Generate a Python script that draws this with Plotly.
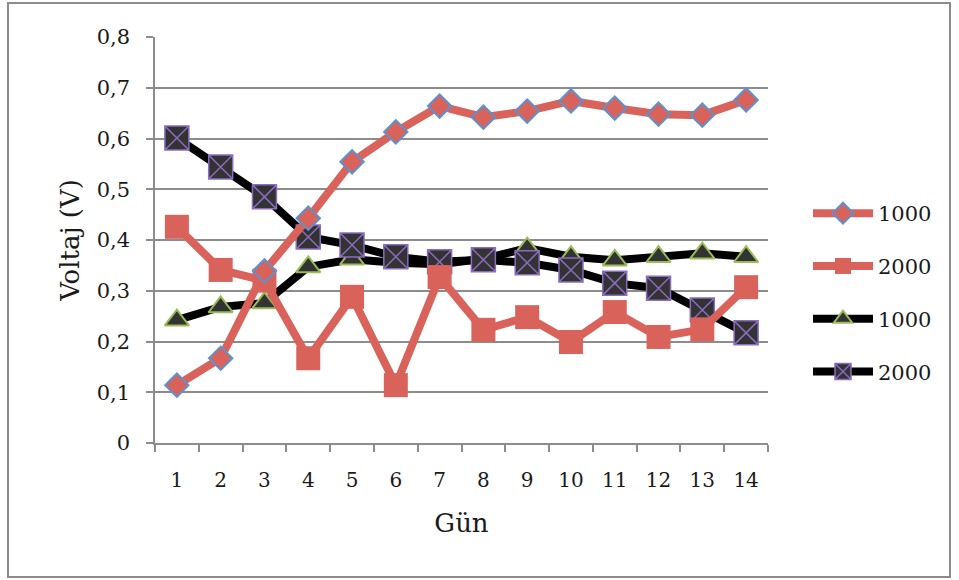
import plotly.graph_objects as go

# Gün (day) numbers on the x axis
days = list(range(1, 15))

# Voltage readings (V) for each series
red_1000 = [0.114, 0.167, 0.339, 0.443, 0.554, 0.613, 0.664, 0.642, 0.654, 0.674, 0.660, 0.648, 0.646, 0.676]
red_2000 = [0.426, 0.341, 0.320, 0.167, 0.288, 0.114, 0.327, 0.223, 0.248, 0.199, 0.258, 0.209, 0.224, 0.307]
black_1000 = [0.242, 0.268, 0.276, 0.347, 0.362, 0.355, 0.352, 0.363, 0.384, 0.367, 0.360, 0.367, 0.374, 0.367]
black_2000 = [0.601, 0.544, 0.485, 0.406, 0.390, 0.367, 0.357, 0.361, 0.355, 0.341, 0.315, 0.305, 0.262, 0.217]

series_names = ["1000", "2000", "1000", "2000"]

y_tick_vals = [0, 0.1, 0.2, 0.3, 0.4, 0.5, 0.6, 0.7, 0.8]
y_tick_text = ["0", "0,1", "0,2", "0,3", "0,4", "0,5", "0,6", "0,7", "0,8"]

RED = "#d9625a"
BLACK = "#000000"
DARK = "#333333"
BLUE = "#5b92d0"
GREEN = "#9bbb59"
PURPLE = "#8a6cc0"
GRID = "#8c8c8c"
FONT = "DejaVu Serif"

fig = go.Figure()

fig.add_trace(go.Scatter(
    x=days, y=black_1000, name=series_names[2], mode="lines+markers",
    line=dict(color=BLACK, width=8),
    marker=dict(symbol="triangle-up", size=21, color=DARK, line=dict(color=GREEN, width=2)),
    legendgroup="c", legendrank=3,
))
fig.add_trace(go.Scatter(
    x=days, y=black_2000, name=series_names[3], mode="lines+markers",
    line=dict(color=BLACK, width=8),
    marker=dict(symbol="square-x", size=24, color=DARK, line=dict(color=PURPLE, width=1.5)),
    legendgroup="d", legendrank=4,
))
fig.add_trace(go.Scatter(
    x=days, y=red_2000, name=series_names[1], mode="lines+markers",
    line=dict(color=RED, width=8),
    marker=dict(symbol="square", size=24, color=RED, line=dict(color=RED, width=0)),
    legendgroup="b", legendrank=2,
))
fig.add_trace(go.Scatter(
    x=days, y=red_1000, name=series_names[0], mode="lines+markers",
    line=dict(color=RED, width=8),
    marker=dict(symbol="diamond", size=18, color=RED, line=dict(color=BLUE, width=2)),
    legendgroup="a", legendrank=1,
))

W, H = 959, 580
L, R, T, B = 155, 191, 37, 137
pw, ph = W - L - R, H - T - B

def px_x(p):
    return (p - L) / pw

def px_y(p):
    return (H - B - p) / ph

fig.update_layout(
    width=W, height=H,
    margin=dict(l=L, r=R, t=T, b=B),
    paper_bgcolor="white", plot_bgcolor="white",
    font=dict(family=FONT, size=21, color="#1a1a1a"),
    showlegend=True,
    legend=dict(
        x=px_x(808), y=px_y(193), xanchor="left", yanchor="top",
        traceorder="grouped", tracegroupgap=22.5,
        font=dict(family=FONT, size=21, color="#1a1a1a"),
        itemwidth=60, bgcolor="rgba(0,0,0,0)",
    ),
    xaxis=dict(
        range=[0.5, 14.5], tickvals=days, ticktext=[str(d) for d in days],
        ticks="", showgrid=False, zeroline=False,
        showline=True, linecolor=GRID, linewidth=1.5,
        ticklabelstandoff=18,
        minor=dict(ticks="outside", tick0=0.5, dtick=1, ticklen=7, tickcolor=GRID, tickwidth=1.5, showgrid=False),
        title=dict(text="Gün", font=dict(family=FONT, size=26), standoff=23),
        tickfont=dict(family=FONT, size=20),
    ),
    yaxis=dict(
        range=[0, 0.8], tickvals=y_tick_vals, ticktext=y_tick_text,
        ticks="outside", ticklen=7, tickcolor=GRID, tickwidth=1.5,
        showgrid=True, gridcolor=GRID, gridwidth=1.5, zeroline=False,
        showline=True, linecolor=GRID, linewidth=1.5,
        ticklabelstandoff=12,
        title=dict(text="Voltaj (V)", font=dict(family=FONT, size=26), standoff=10),
        tickfont=dict(family=FONT, size=21),
    ),
    shapes=[dict(
        type="rect", xref="paper", yref="paper",
        x0=px_x(8), x1=px_x(950), y0=px_y(577), y1=px_y(3),
        line=dict(color="#8c8c8c", width=2), fillcolor="rgba(0,0,0,0)", layer="below",
    )],
)

fig.write_html("out.html")
